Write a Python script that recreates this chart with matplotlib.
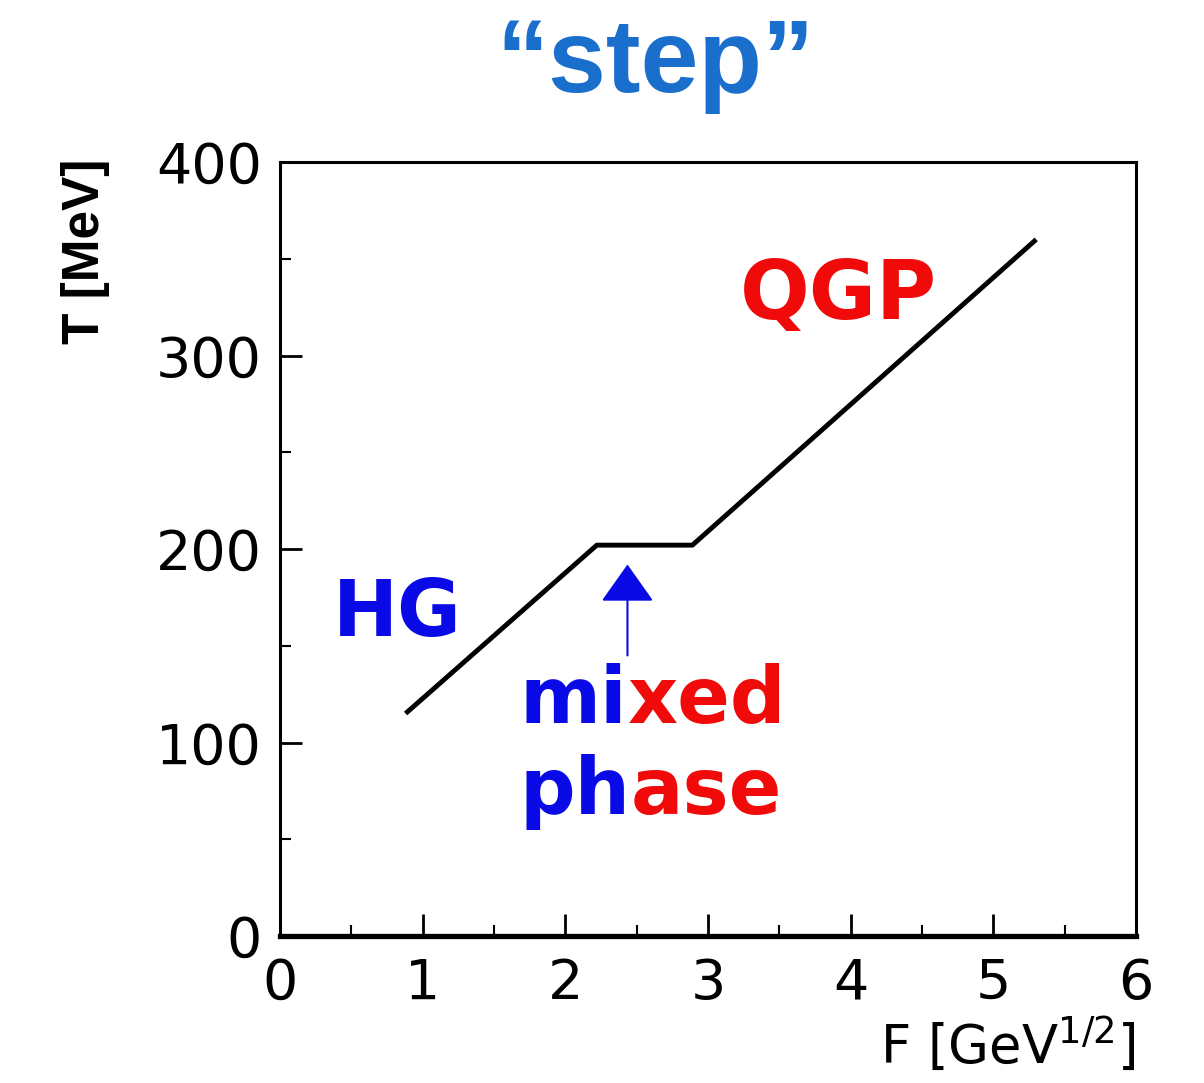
import matplotlib
matplotlib.use("Agg")
import matplotlib.pyplot as plt
from matplotlib.ticker import MultipleLocator

# Data
F_values = [0.88, 2.22, 2.89, 5.30]
T_values = [115, 202, 202, 360]
x_ticks = [0, 1, 2, 3, 4, 5, 6]
y_ticks = [0, 100, 200, 300, 400]

BLUE = "#0a0ae6"
RED = "#f00a0a"
TITLE_BLUE = "#1a6fcc"

plt.rcParams['font.family'] = ['Liberation Sans', 'DejaVu Sans']

fig = plt.figure(figsize=(12.04, 10.83), dpi=100)
ax = fig.add_axes([0.2326, 0.1357, 0.711, 0.7147])

ax.plot(F_values, T_values, color='black', lw=3.5, solid_capstyle='butt')

ax.set_xlim(0, 6)
ax.set_ylim(0, 400)
ax.set_xticks(x_ticks)
ax.set_yticks(y_ticks)
ax.xaxis.set_minor_locator(MultipleLocator(0.5))
ax.yaxis.set_minor_locator(MultipleLocator(50))
ax.tick_params(which='major', direction='in', length=16, width=2, labelsize=40, pad=15)
ax.tick_params(which='minor', direction='in', length=8, width=1.5)
ax.tick_params(axis='y', which='major', pad=13)
for lab in ax.get_xticklabels() + ax.get_yticklabels():
    lab.set_family('DejaVu Sans')

for side in ['left', 'top', 'right']:
    ax.spines[side].set_linewidth(2.2)
ax.spines['bottom'].set_linewidth(3.8)

ax.set_ylabel('T [MeV]', fontsize=37, fontweight='bold', labelpad=0)
ax.yaxis.set_label_coords(-0.199, 0.885)
fig.text(0.943, 0.008, 'F [GeV$^{1/2}$]', fontsize=38, ha='right', va='bottom',
         family='DejaVu Sans')

# Title
fig.text(0.544, 0.915, '\u201cstep\u201d', fontsize=75, fontweight='bold',
         color=TITLE_BLUE, ha='center', va='baseline')

# Annotations
lab_font = dict(family='DejaVu Sans', fontweight='bold')
ax.text(0.37, 155, 'HG', fontsize=56, color=BLUE, ha='left', va='baseline', **lab_font)
ax.text(3.22, 319, 'QGP', fontsize=59, color=RED, ha='left', va='baseline', **lab_font)

t1 = ax.text(1.68, 110, 'mi', fontsize=56, color=BLUE, ha='left', va='baseline', **lab_font)
ax.annotate('xed', xy=(1, 0), xycoords=t1, fontsize=56, color=RED,
            ha='left', va='bottom', **lab_font)
t2 = ax.text(1.68, 63, 'ph', fontsize=56, color=BLUE, ha='left', va='baseline', **lab_font)
ax.annotate('ase', xy=(1, 0), xycoords=t2, fontsize=56, color=RED,
            ha='left', va='bottom', **lab_font)

ax.annotate('', xy=(2.435, 192), xytext=(2.435, 145),
            arrowprops=dict(arrowstyle='-|>,head_length=2.4,head_width=1.7',
                            color=BLUE, lw=1.5, shrinkA=0, shrinkB=0))

fig.savefig('out.png', dpi=100)
